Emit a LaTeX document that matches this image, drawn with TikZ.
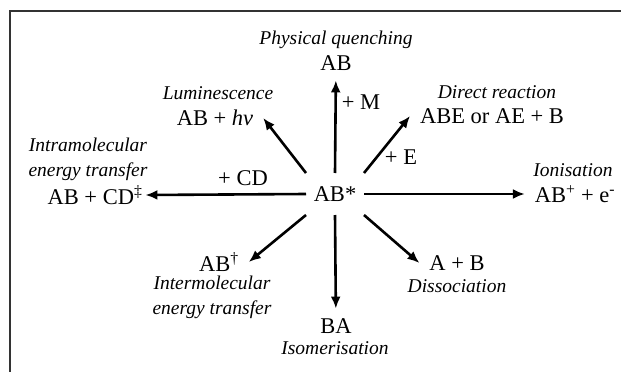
\documentclass[tikz,border=0pt]{standalone}
\usepackage{fontspec}
\setmainfont{Liberation Serif}
\usetikzlibrary{arrows.meta}

\begin{document}
\begin{tikzpicture}[x=1pt,y=-1pt,
  prod/.style={font=\fontsize{22.5}{26}\selectfont,inner sep=0pt,outer sep=10pt},
  lbl/.style={font=\fontsize{19.5}{25}\selectfont\itshape,inner sep=0pt,align=center},
  arr/.style={-{Latex[length=12pt,width=10pt]},line width=2.6pt}]
  \useasboundingbox (0,0) rectangle (621,372);
  % frame, open to the right and below
  \draw[line width=1.4pt,black!80] (10,372) -- (10,11) -- (621,11);
  % excited molecule in the middle
  \node[prod,minimum width=58pt,minimum height=42pt,outer sep=0pt] (star) at (335,194) {AB*};
  % products, each with its process written by it
  \node[prod] (quench) at (336,63) {AB};
  \node[lbl] (quenchlbl) at (336,40) {Physical quenching};
  \node[prod] (lum) at (215,118) {AB + \textit{hν}};
  \node[lbl] (lumlbl) at (218,93) {Luminescence};
  \node[prod] (direct) at (492,116) {ABE or AE + B};
  \node[lbl] (directlbl) at (497,92) {Direct reaction};
  \node[prod] (ion) at (575,194) {AB\textsuperscript{+} + e\textsuperscript{-}};
  \node[lbl] (ionlbl) at (573,170) {Ionisation};
  \node[prod,outer sep=3pt] (intra) at (95,195) {AB + CD\textsuperscript{‡}};
  \node[lbl] (intralbl) at (88,159) {Intramolecular\\energy transfer};
  \node[prod] (inter) at (219,262) {AB\textsuperscript{†}};
  \node[lbl] (interlbl) at (212,297) {Intermolecular\\energy transfer};
  \node[prod] (isom) at (336,326) {BA};
  \node[lbl] (isomlbl) at (335,348) {Isomerisation};
  \node[prod] (diss) at (457,263) {A + B};
  \node[lbl] (disslbl) at (457,286) {Dissociation};
  % partners written along the arrows
  \node[prod,inner sep=0pt,outer sep=0pt] (plusm) at (361,102) {+ M};
  \node[prod,inner sep=0pt,outer sep=0pt] (pluse) at (401,157) {+ E};
  \node[prod,inner sep=0pt,outer sep=0pt] (pluscd) at (243,178) {+ CD};
  % arrows out of AB*
  \foreach \a/\b in {star.north/quench,star.north west/lum.east,star.north east/direct.west,
     star.east/ion.west,star.west/intra.east,star.south west/inter.east,star.south/isom,
     star.south east/diss.west} {\draw[arr] (\a) -- (\b);}
\end{tikzpicture}
\end{document}
